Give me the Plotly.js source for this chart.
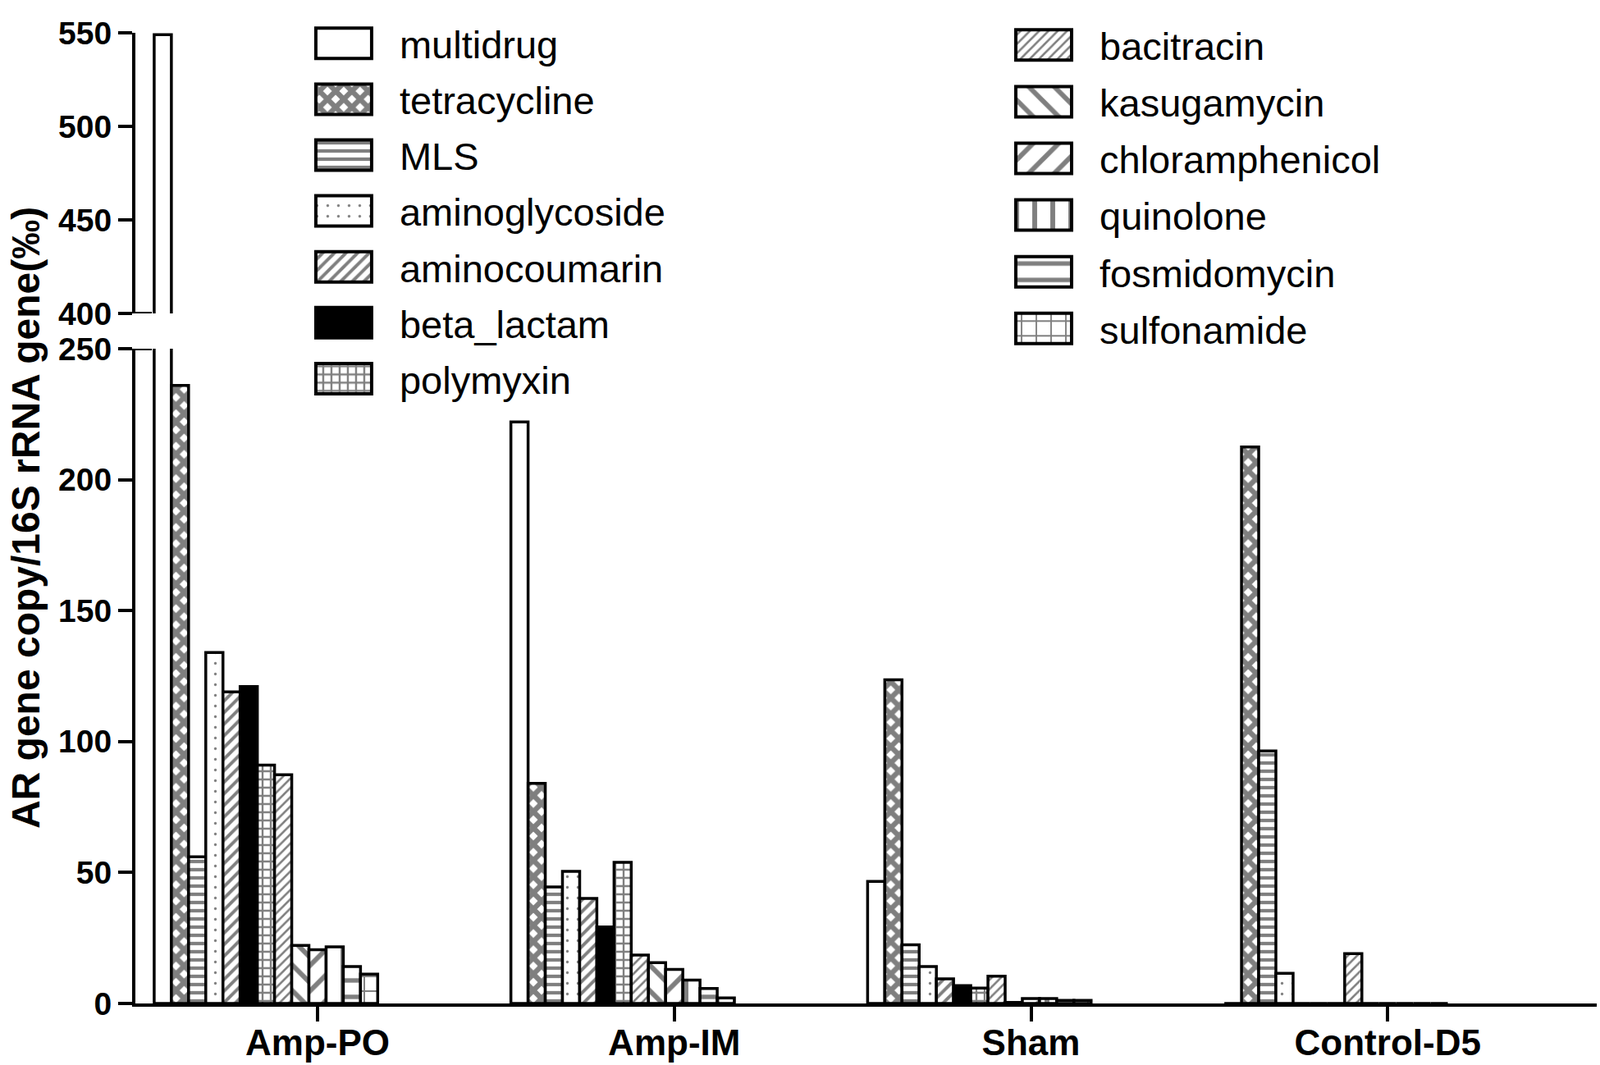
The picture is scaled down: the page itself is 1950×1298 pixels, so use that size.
<!DOCTYPE html>
<html>
<head>
<meta charset="utf-8">
<script src="https://cdn.plot.ly/plotly-3.0.1.min.js"></script>
<style>
  html, body { margin: 0; padding: 0; background: #fff; }
  #chart { width: 1950px; height: 1298px; }
</style>
</head>
<body>
<div id="chart"></div>
<script>
// ── Datos (‰) ──────────────────────────────────────────────────────────────
const groups = ['Amp-PO', 'Amp-IM', 'Sham', 'Control-D5'];

const classes = ['multidrug', 'tetracycline', 'MLS', 'aminoglycoside', 'aminocoumarin',
                 'beta_lactam', 'polymyxin', 'bacitracin', 'kasugamycin', 'chloramphenicol',
                 'quinolone', 'fosmidomycin', 'sulfonamide'];

const multidrug       = [549, 222, 46.6, 0];
const tetracycline    = [236, 84, 123.6, 212.5];
const mls             = [56, 44.5, 22.4, 96.4];
const aminoglycoside  = [134, 50.4, 14.1, 11.5];
const aminocoumarin   = [119, 40.1, 9.4, 0];
const betaLactam      = [121, 29.2, 6.8, 0];
const polymyxin       = [91, 53.9, 5.9, 0];
const bacitracin      = [87.3, 18.5, 10.4, 19.0];
const kasugamycin     = [22.2, 15.6, 0.4, 0];
const chloramphenicol = [20.5, 13.0, 1.9, 0];
const quinolone       = [21.6, 8.9, 1.9, 0];
const fosmidomycin    = [14.1, 5.7, 1.2, 0];
const sulfonamide     = [11.2, 2.1, 1.2, 0];

const lowTicks  = [0, 50, 100, 150, 200, 250];
const highTicks = [400, 450, 500, 550];

const series = [multidrug, tetracycline, mls, aminoglycoside, aminocoumarin, betaLactam,
                polymyxin, bacitracin, kasugamycin, chloramphenicol, quinolone,
                fosmidomycin, sulfonamide];

// ── Estilo ─────────────────────────────────────────────────────────────────
const FONT = 'Arial, "Liberation Sans", sans-serif';
const BAR_W = 0.0482;        // ancho de barra (unidades de categoría)
const GROUP_START = -0.458;  // desplazamiento de la primera barra respecto al tick

// relleno de cada serie
const FILLS = [
  { shape: '' },
  { shape: 'x',  size: 14, solidity: 0.7 },
  { shape: '-',  size: 10, solidity: 0.42 },
  { shape: '.',  size: 13, solidity: 0.05 },
  { shape: '/',  size: 10, solidity: 0.4 },
  { solid: true },
  { shape: '+',  size: 10, solidity: 0.42 },
  { shape: '/',  size: 8,  solidity: 0.32 },
  { shape: '\\', size: 22, solidity: 0.27 },
  { shape: '/',  size: 22, solidity: 0.27 },
  { shape: '|',  size: 22, solidity: 0.27 },
  { shape: '-',  size: 20, solidity: 0.27 },
  { shape: '+',  size: 18, solidity: 0.2 },
];

function mkMarker(f) {
  const m = {
    color: f.solid ? '#000' : '#fff',
    line: { color: '#000', width: 3.5 },
  };
  if (f.shape) {
    m.pattern = { shape: f.shape, size: f.size, solidity: f.solidity,
                  fgcolor: '#000', bgcolor: '#fff', fillmode: 'overlay' };
  }
  return m;
}

const traces = [];
classes.forEach((name, k) => {
  const base = {
    type: 'bar', name, x: groups, y: series[k],
    offset: GROUP_START + k * BAR_W, width: BAR_W,
    marker: mkMarker(FILLS[k]),
    legendgroup: name, hoverinfo: 'skip',
  };
  // tramo inferior (0–250) con leyenda
  traces.push(Object.assign({}, base, {
    xaxis: 'x', yaxis: 'y',
    legend: k < 7 ? 'legend' : 'legend2',
  }));
  // tramo superior (400–550), sin leyenda
  traces.push(Object.assign({}, base, {
    xaxis: 'x', yaxis: 'y2', showlegend: false,
  }));
});

const AXIS = {
  showline: true, linecolor: '#000', linewidth: 4,
  ticks: 'outside', ticklen: 17, tickwidth: 4, tickcolor: '#000',
  showgrid: false, zeroline: false, fixedrange: true,
  tickfont: { family: FONT, size: 39, color: '#000', weight: 'bold' },
};

const LEGEND = {
  bgcolor: 'rgba(0,0,0,0)', borderwidth: 0,
  font: { family: FONT, size: 47, color: '#000' },
  itemwidth: 126, traceorder: 'grouped', tracegroupgap: 4,
  xanchor: 'left', yanchor: 'top',
};

const breakMark = (yref, y) => ({
  type: 'line', xref: 'paper', xsizemode: 'pixel', xanchor: 0,
  x0: -2, x1: 20, yref, y0: y, y1: y,
  line: { color: '#000', width: 4 },
});

const layout = {
  width: 1950, height: 1298,
  margin: { l: 165, r: 4, t: 40, b: 75 },
  paper_bgcolor: '#fff', plot_bgcolor: 'rgba(0,0,0,0)',
  font: { family: FONT, color: '#000' },
  barmode: 'overlay',
  showlegend: true,
  hovermode: false,
  xaxis: Object.assign({}, AXIS, {
    type: 'category', categoryorder: 'array', categoryarray: groups,
    range: [-0.5107, 3.586], anchor: 'y', ticklen: 18, ticklabelstandoff: -12,
    tickfont: { family: FONT, size: 44, color: '#000', weight: 'bold' },
  }),
  yaxis: Object.assign({}, AXIS, {
    domain: [0, 0.6746], range: [0, 250], tickvals: lowTicks, anchor: 'x',
  }),
  yaxis2: Object.assign({}, AXIS, {
    domain: [0.7109, 1], range: [400, 550], tickvals: highTicks, anchor: 'x',
  }),
  legend:  Object.assign({}, LEGEND, { x: 0.1044, y: 1.0205 }),
  legend2: Object.assign({}, LEGEND, { x: 0.5834, y: 1.0188, tracegroupgap: 5 }),
  shapes: [breakMark('y', 250), breakMark('y2', 400)],
  annotations: [{
    text: 'AR gene copy/16S rRNA gene(‰)',
    xref: 'paper', yref: 'paper', x: -0.0752, y: 0.5004,
    xanchor: 'center', yanchor: 'middle', textangle: -90, showarrow: false,
    font: { family: FONT, size: 48, color: '#000', weight: 'bold' },
  }],
};

// muestras de leyenda grandes, con el mismo patrón que usan las barras
function fixLegend(gd) {
  gd.querySelectorAll('.legendpoints path').forEach(p => {
    p.setAttribute('d', 'M34,18.5H-34V-18.5H34Z');
    p.style.strokeWidth = '4px';
    const fill = p.style.fill || '';
    if (fill.indexOf('-legend-') >= 0) p.style.fill = fill.replace('-legend-', '-');
  });
}

Plotly.newPlot('chart', traces, layout, { displayModeBar: false, staticPlot: true })
  .then(gd => {
    fixLegend(gd);
    gd.on('plotly_afterplot', () => fixLegend(gd));
    setTimeout(() => fixLegend(gd), 50);
    setTimeout(() => fixLegend(gd), 400);
  });
</script>
</body>
</html>
